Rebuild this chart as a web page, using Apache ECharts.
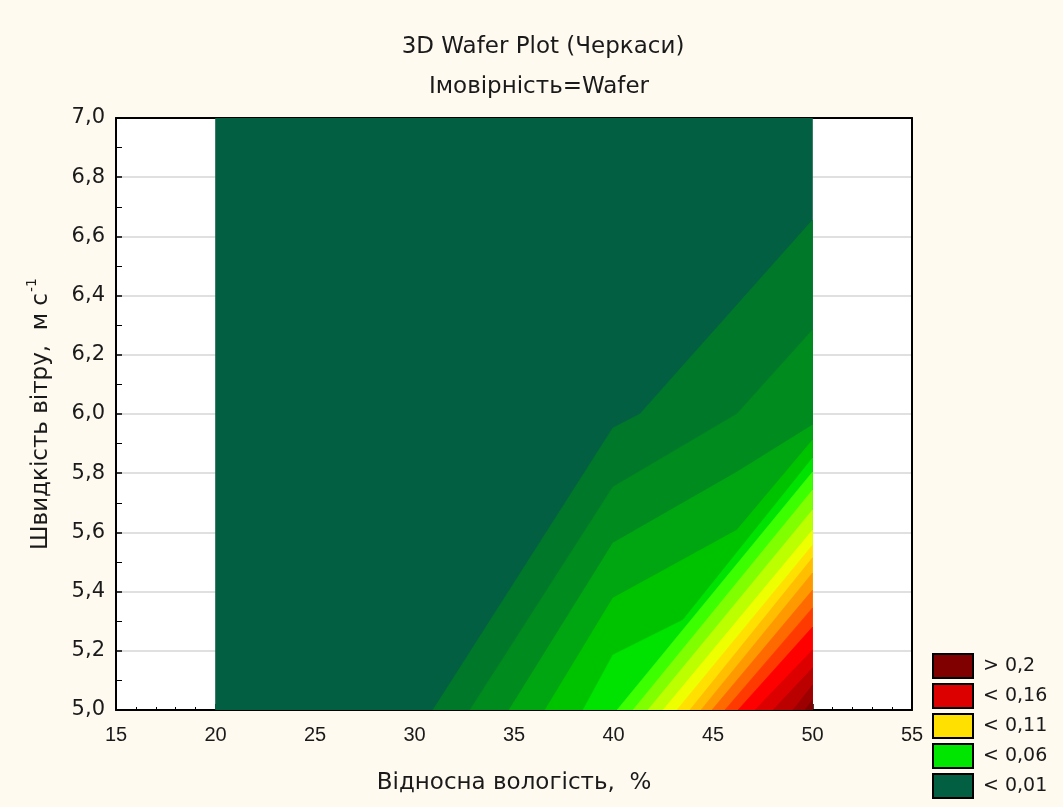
<!DOCTYPE html>
<html>
<head>
<meta charset="utf-8">
<script src="https://cdn.jsdelivr.net/npm/echarts@6/dist/echarts.min.js"></script>
<style>
  html, body { margin: 0; padding: 0; background: #fefaf0; }
  #chart { width: 1063px; height: 807px; }
</style>
</head>
<body>
<div id="chart"></div>
<script>
// Axis ranges and ticks
const humidityRange = [15, 55];      // Відносна вологість, %
const humidityStep = 5;
const windRange = [5.0, 7.0];        // Швидкість вітру, м/с
const windStep = 0.2;

// Extent of the wafer surface (x: humidity, y: wind speed)
const waferX = [20, 50];
const waferY = [5.0, 7.0];

// Contour levels of probability and the isoline for each level,
// every isoline runs from the bottom edge (y = 5) to the right edge (x = 50)
const isoLevels = [0.01, 0.02, 0.03, 0.04, 0.05, 0.06, 0.07, 0.08, 0.09, 0.10,
                   0.11, 0.12, 0.13, 0.14, 0.15, 0.16, 0.17, 0.18, 0.19];
const isolines = [
  [[30.93, 5.0], [39.97, 5.953], [41.33, 6.0], [50, 6.655]],
  [[32.79, 5.0], [39.97, 5.753], [46.2, 6.0], [50, 6.284]],
  [[34.75, 5.0], [39.97, 5.564], [46.2, 5.804], [50, 5.963]],
  [[36.56, 5.0], [39.97, 5.378], [46.2, 5.608], [50, 5.912]],
  [[38.47, 5.0], [39.97, 5.186], [43.49, 5.304], [50, 5.851]],
  [[40.18, 5.0], [50, 5.804]],
  [[40.98, 5.0], [50, 5.743]],
  [[41.73, 5.0], [50, 5.676]],
  [[42.49, 5.0], [50, 5.608]],
  [[43.19, 5.0], [50, 5.557]],
  [[43.84, 5.0], [50, 5.514]],
  [[44.40, 5.0], [50, 5.463]],
  [[44.95, 5.0], [50, 5.405]],
  [[45.60, 5.0], [50, 5.345]],
  [[46.26, 5.0], [50, 5.280]],
  [[47.11, 5.0], [50, 5.203]],
  [[48.02, 5.0], [50, 5.142]],
  [[49.02, 5.0], [50, 5.084]],
  [[49.62, 5.0], [50, 5.034]]
];

// Fill colour of each band, from below 0.01 up to the highest band
const bandColors = [
  '#025f41', '#00782a', '#008b1e', '#00a612', '#00c300', '#00e200',
  '#3cff00', '#80ff00', '#bbff00', '#eeff00', '#ffe000', '#ffbe00',
  '#ff9900', '#ff6a00', '#ff3a00', '#ff0000', '#dd0000', '#bb0000',
  '#9c0000', '#800000'
];

// Legend entries
const legendLabels = ['> 0,2', '< 0,16', '< 0,11', '< 0,06', '< 0,01'];
const legendColors = ['#800000', '#dd0000', '#ffe000', '#00e600', '#025f41'];

const SANS = "'Liberation Sans', Arial, sans-serif";
const WIDE = "'DejaVu Sans', 'Liberation Sans', sans-serif";
const INK = '#1a1a1a';

function comma(v, digits) {
  return v.toFixed(digits).replace('.', ',');
}

// Polygon of band k: the whole wafer for k = 0, otherwise the area
// below/right of isoline k-1 closed through the corner (50, 5)
function bandPolygon(k) {
  if (k === 0) {
    return [[waferX[0], waferY[0]], [waferX[0], waferY[1]],
            [waferX[1], waferY[1]], [waferX[1], waferY[0]]];
  }
  return isolines[k - 1].concat([[waferX[1], waferY[0]]]);
}

const chart = echarts.init(document.getElementById('chart'), null, { renderer: 'canvas' });

const legendSeries = legendLabels.map((name, i) => ({
  name: name,
  type: 'scatter',
  data: [],
  itemStyle: { color: legendColors[i], opacity: 1 }
}));

chart.setOption({
  backgroundColor: '#fefaf0',
  animation: false,
  title: [
    {
      text: '3D Wafer Plot (Черкаси)',
      left: 538, top: 31, textAlign: 'center',
      textStyle: { fontFamily: WIDE, fontSize: 23, fontWeight: 'normal', color: INK }
    },
    {
      text: 'Імовірність=Wafer',
      left: 534, top: 71, textAlign: 'center',
      textStyle: { fontFamily: WIDE, fontSize: 23, fontWeight: 'normal', color: INK }
    }
  ],
  grid: {
    left: 116, top: 118, width: 796, height: 592,
    show: true, backgroundColor: '#ffffff', borderColor: '#000', borderWidth: 0
  },
  legend: {
    orient: 'vertical',
    left: 932, top: 653,
    width: 130, height: 160,
    padding: 0,
    icon: 'rect',
    itemWidth: 40, itemHeight: 24, itemGap: 4,
    selectedMode: false,
    data: legendLabels.map((n, i) => ({
      name: n,
      itemStyle: { color: legendColors[i], opacity: 1, borderColor: '#000', borderWidth: 2 }
    })),
    textStyle: { fontFamily: WIDE, fontSize: 19, lineHeight: 24, color: INK, padding: [0, 0, 0, 5] }
  },
  xAxis: [
    {
      type: 'value',
      min: humidityRange[0], max: humidityRange[1], interval: humidityStep,
      position: 'bottom',
      name: 'Відносна вологість,  %',
      nameLocation: 'middle', nameGap: 62,
      nameTextStyle: { fontFamily: WIDE, fontSize: 23, color: INK },
      axisLine: { show: true, onZero: false, lineStyle: { color: '#000', width: 2 } },
      axisTick: { show: true, inside: true, length: 6, lineStyle: { color: '#000', width: 1.5 } },
      minorTick: { show: true, splitNumber: 5, length: 3, lineStyle: { color: '#000', width: 1 } },
      axisLabel: { fontFamily: SANS, fontSize: 20, color: INK, margin: 15 },
      splitLine: { show: false }
    },
    {
      type: 'value',
      min: humidityRange[0], max: humidityRange[1], interval: humidityStep,
      position: 'top',
      axisLine: { show: true, onZero: false, lineStyle: { color: '#000', width: 2 } },
      axisTick: { show: false }, axisLabel: { show: false }, splitLine: { show: false }
    }
  ],
  yAxis: [
    {
      type: 'value',
      min: windRange[0], max: windRange[1], interval: windStep,
      position: 'left',
      name: '{t|Швидкість вітру,  м с}{s|-1}',
      nameLocation: 'middle', nameGap: 63, nameRotate: 90,
      nameTextStyle: {
        rich: {
          t: { fontFamily: WIDE, fontSize: 23, color: INK, lineHeight: 28, verticalAlign: 'bottom' },
          s: { fontFamily: WIDE, fontSize: 14, color: INK, lineHeight: 28, verticalAlign: 'top', padding: [0, 0, 0, 1] }
        }
      },
      axisLine: { show: true, onZero: false, lineStyle: { color: '#000', width: 2 } },
      axisTick: { show: true, inside: true, length: 6, lineStyle: { color: '#000', width: 1.5 } },
      minorTick: { show: true, splitNumber: 2, length: 6, lineStyle: { color: '#000', width: 1 } },
      axisLabel: { fontFamily: WIDE, fontSize: 21, color: INK, margin: 11, formatter: v => comma(v, 1) },
      splitLine: { show: true, lineStyle: { color: '#d6d6d6', width: 1.5 } }
    },
    {
      type: 'value',
      min: windRange[0], max: windRange[1], interval: windStep,
      position: 'right',
      axisLine: { show: true, onZero: false, lineStyle: { color: '#000', width: 2 } },
      axisTick: { show: false }, axisLabel: { show: false }, splitLine: { show: false }
    }
  ],
  series: [
    {
      name: 'Wafer',
      type: 'custom',
      xAxisIndex: 0, yAxisIndex: 0,
      silent: true,
      clip: true,
      z: 1,
      data: bandColors.map((c, k) => [k]),
      renderItem: function (params, api) {
        const k = api.value(0);
        const pts = bandPolygon(k).map(p => api.coord(p));
        return {
          type: 'polygon',
          shape: { points: pts },
          style: { fill: bandColors[k], stroke: bandColors[k], lineWidth: 0.6 }
        };
      }
    }
  ].concat(legendSeries)
});
</script>
</body>
</html>
